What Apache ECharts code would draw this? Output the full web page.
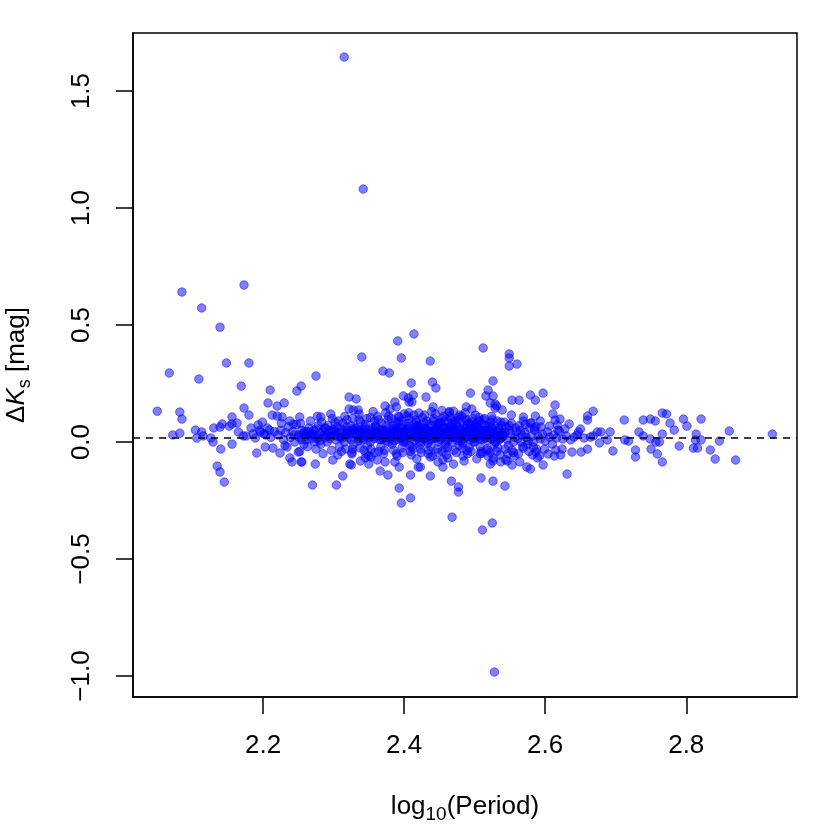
<!DOCTYPE html>
<html><head><meta charset="utf-8">
<script src="https://cdn.jsdelivr.net/npm/echarts@6/dist/echarts.min.js"></script>
<style>html,body{margin:0;padding:0;background:#fff}#c{width:830px;height:830px}</style>
</head><body><div id="c"></div>
<script>
// axis ranges and ticks
const xMin = 2.0156, xMax = 2.957;
const yMin = -1.0897, yMax = 1.748;
const xTicks = [2.2, 2.4, 2.6, 2.8];
const yTicks = [-1.0, -0.5, 0.0, 0.5, 1.0, 1.5];
const refLine = 0.02;

// scattered outliers
const outlierPoints = [
[2.315,1.645],[2.342,1.081],[2.085,0.641],[2.173,0.671],[2.113,0.573],[2.139,0.491],[2.067,0.295],[2.148,0.338],[2.180,0.338],[2.109,0.269],[2.169,0.239],
[2.414,0.462],[2.391,0.432],[2.340,0.363],[2.396,0.359],[2.437,0.346],[2.370,0.303],[2.379,0.295],[2.512,0.402],[2.549,0.376],[2.549,0.359],[2.549,0.325],[2.560,0.333],
[2.275,0.282],[2.248,0.218],[2.254,0.239],[2.322,0.192],[2.332,0.184],[2.410,0.252],[2.399,0.197],[2.387,0.171],[2.406,0.188],[2.440,0.256],[2.445,0.231],[2.526,0.261],[2.494,0.209],[2.519,0.222],[2.516,0.197],[2.526,0.197],[2.553,0.179],[2.563,0.179],[2.579,0.201],[2.586,0.179],[2.413,0.201],[2.411,0.171],[2.431,0.192],[2.529,0.162],[2.529,0.145],[2.441,0.150],[2.488,0.150],[2.496,0.141],[2.522,0.167],[2.531,0.154],[2.539,0.137],[2.552,0.115],[2.569,0.107],[2.579,0.081],[2.470,0.132],[2.464,0.130],[2.421,0.124],[2.322,0.141],[2.328,0.137],[2.335,0.137],[2.373,0.154],[2.380,0.141],[2.389,0.150],[2.407,0.171],[2.296,0.120],[2.282,0.107],[2.252,0.107],[2.243,0.077],[2.393,0.107],[2.400,0.120],
[2.270,-0.184],[2.304,-0.184],[2.313,-0.145],[2.325,-0.098],[2.393,-0.197],[2.396,-0.261],[2.409,-0.239],[2.409,-0.141],[2.377,-0.141],[2.373,-0.085],[2.350,-0.094],[2.274,-0.094],[2.255,-0.085],[2.323,-0.094],[2.326,-0.051],[2.353,-0.064],[2.393,-0.107],[2.366,-0.124],
[2.437,-0.145],[2.467,-0.167],[2.477,-0.192],[2.477,-0.214],[2.509,-0.154],[2.526,-0.167],[2.543,-0.188],[2.420,-0.107],[2.423,-0.107],[2.455,-0.107],[2.470,-0.094],[2.579,-0.115],[2.546,-0.081],[2.526,-0.081],[2.511,-0.047],[2.574,-0.107],[2.569,-0.026],[2.455,-0.077],[2.437,-0.064],
[2.468,-0.321],[2.511,-0.376],[2.525,-0.346],[2.528,-0.983],
[2.299,-0.077],[2.338,-0.081],[2.345,-0.068],[2.362,-0.077],[2.387,-0.085],[2.418,-0.072],[2.448,-0.085],[2.462,-0.068],[2.485,-0.081],[2.503,-0.072],[2.522,-0.094],[2.537,-0.085],[2.553,-0.098],[2.564,-0.085]
];

// short-period side
const leftPoints = [
[2.050,0.132],[2.072,0.030],[2.082,0.038],[2.082,0.128],[2.085,0.098],[2.104,0.051],[2.106,0.017],[2.113,0.043],[2.115,0.026],[2.126,0.017],[2.129,0.000],[2.130,0.060],[2.139,0.064],[2.142,0.077],[2.140,-0.030],[2.135,-0.103],[2.139,-0.128],[2.145,-0.171],
[2.152,0.068],[2.156,0.077],[2.156,0.107],[2.156,-0.009],[2.163,0.081],[2.165,0.043],[2.172,0.026],[2.173,0.145],[2.176,0.026],[2.180,0.115],[2.189,0.017],[2.191,-0.047],[2.193,0.073],[2.196,0.043],[2.199,0.085],[2.203,-0.021],[2.204,0.030],[2.207,0.167],[2.209,0.051],[2.210,0.222],[2.213,0.115],[2.214,-0.026],[2.220,0.154],[2.220,0.111],[2.224,-0.047],[2.227,0.107],[2.230,0.167],[2.234,-0.021],[2.238,-0.068],[2.241,-0.085],[2.250,-0.043],[2.254,-0.085],
[2.221,0.03],[2.225,0.05],[2.229,0.01],[2.232,0.04],[2.236,0.065],[2.239,0.02],[2.242,0.045],[2.245,0.0],[2.247,0.075],[2.244,0.03],[2.238,0.09],[2.231,-0.015],[2.226,0.08],[2.216,0.045],[2.211,0.02],[2.206,0.06],[2.201,0.035],[2.195,0.05],[2.186,0.035],[2.183,0.06]
];

// main band
const corePoints = [
[2.251,0.02],[2.255,0.05],[2.258,-0.01],[2.253,0.08],[2.257,0.035],[2.252,-0.04],
[2.261,0.01],[2.265,0.06],[2.268,0.03],[2.263,-0.02],[2.267,0.09],[2.262,0.045],
[2.271,0.03],[2.275,-0.03],[2.278,0.07],[2.273,0.0],[2.277,0.11],[2.272,0.05],[2.276,0.015],
[2.281,0.04],[2.285,-0.05],[2.288,0.02],[2.283,0.085],[2.287,0.06],[2.282,-0.01],[2.286,0.03],
[2.291,0.0],[2.295,0.05],[2.298,0.1],[2.293,0.025],[2.297,-0.035],[2.292,0.07],[2.296,0.04],
[2.301,0.03],[2.305,0.065],[2.308,-0.02],[2.303,0.01],[2.307,0.09],[2.302,0.045],[2.306,-0.055],[2.309,0.02],
[2.311,0.055],[2.315,0.0],[2.318,0.035],[2.313,0.08],[2.317,-0.03],[2.312,0.015],[2.316,0.11],[2.319,0.05],
[2.321,0.02],[2.325,0.07],[2.328,-0.01],[2.323,0.045],[2.327,0.1],[2.322,0.03],[2.326,-0.045],[2.329,0.06],
[2.331,0.04],[2.335,0.005],[2.338,0.085],[2.333,0.025],[2.337,-0.025],[2.332,0.06],[2.336,0.12],[2.339,0.015],[2.334,0.05],
[2.341,0.03],[2.345,0.075],[2.348,-0.015],[2.343,0.05],[2.347,0.1],[2.342,0.01],[2.346,-0.05],[2.349,0.035],[2.344,0.065],
[2.351,0.02],[2.355,0.06],[2.358,0.09],[2.353,-0.03],[2.357,0.04],[2.352,0.0],[2.356,0.13],[2.359,0.07],[2.354,0.025],[2.350,-0.06],
[2.361,0.045],[2.365,0.01],[2.368,0.08],[2.363,0.03],[2.367,-0.02],[2.362,0.11],[2.366,0.055],[2.369,0.02],[2.364,-0.04],[2.360,0.065],
[2.371,0.035],[2.375,0.07],[2.378,0.0],[2.373,0.05],[2.377,0.095],[2.372,-0.035],[2.376,0.02],[2.379,0.06],[2.374,0.125],[2.370,0.015],
[2.381,0.025],[2.385,0.055],[2.388,0.085],[2.383,-0.01],[2.387,0.04],[2.382,0.1],[2.386,0.005],[2.389,-0.05],[2.384,0.07],[2.380,0.03],[2.3865,0.045],
[2.391,0.05],[2.395,0.015],[2.398,0.075],[2.393,0.035],[2.397,-0.025],[2.392,0.11],[2.396,0.06],[2.399,0.0],[2.394,0.09],[2.390,-0.06],[2.3965,0.025],
[2.401,0.03],[2.405,0.065],[2.408,-0.015],[2.403,0.045],[2.407,0.1],[2.402,0.01],[2.406,0.08],[2.409,-0.04],[2.404,0.055],[2.400,0.02],[2.4065,0.125],[2.4035,0.035],
[2.411,0.04],[2.415,0.005],[2.418,0.07],[2.413,0.025],[2.417,0.095],[2.412,-0.03],[2.416,0.05],[2.419,0.015],[2.414,0.115],[2.410,-0.055],[2.4165,0.06],[2.4135,0.03],
[2.421,0.02],[2.425,0.06],[2.428,0.085],[2.423,-0.01],[2.427,0.045],[2.422,0.0],[2.426,0.105],[2.429,0.035],[2.424,-0.045],[2.420,0.07],[2.4265,0.015],[2.4235,0.05],
[2.431,0.035],[2.435,0.075],[2.438,-0.02],[2.433,0.05],[2.437,0.01],[2.432,0.09],[2.436,0.025],[2.439,0.13],[2.434,-0.05],[2.430,0.06],[2.4365,0.04],[2.4335,-0.005],
[2.441,0.045],[2.445,0.015],[2.448,0.08],[2.443,0.03],[2.447,-0.03],[2.442,0.1],[2.446,0.055],[2.449,0.0],[2.444,0.12],[2.440,-0.06],[2.4465,0.065],[2.4435,0.02],
[2.451,0.025],[2.455,0.065],[2.458,-0.01],[2.453,0.04],[2.457,0.09],[2.452,0.01],[2.456,0.11],[2.459,0.05],[2.454,-0.04],[2.450,0.075],[2.4565,0.03],[2.4535,0.135],
[2.461,0.03],[2.465,0.055],[2.468,0.0],[2.463,0.085],[2.467,0.02],[2.462,-0.025],[2.466,0.1],[2.469,0.045],[2.464,0.125],[2.460,-0.055],[2.4665,0.065],[2.4635,0.01],
[2.471,0.04],[2.475,0.07],[2.478,-0.015],[2.473,0.025],[2.477,0.095],[2.472,0.05],[2.476,0.005],[2.479,0.115],[2.474,-0.045],[2.470,0.06],[2.4765,0.035],[2.4735,0.08],
[2.481,0.02],[2.485,0.06],[2.488,0.09],[2.483,-0.005],[2.487,0.045],[2.482,0.11],[2.486,0.015],[2.489,-0.035],[2.484,0.07],[2.480,0.03],[2.4865,0.125],[2.4835,-0.06],
[2.491,0.035],[2.495,0.075],[2.498,0.0],[2.493,0.05],[2.497,0.1],[2.492,-0.025],[2.496,0.02],[2.499,0.065],[2.494,0.04],[2.490,-0.05],[2.4965,0.085],[2.4935,0.01],
[2.501,0.03],[2.505,0.055],[2.508,-0.02],[2.503,0.08],[2.507,0.015],[2.502,0.045],[2.506,0.105],[2.509,-0.04],[2.504,0.065],[2.500,0.0],[2.5065,0.09],[2.5035,0.025],
[2.511,0.04],[2.515,0.07],[2.518,0.005],[2.513,0.025],[2.517,-0.03],[2.512,0.095],[2.516,0.05],[2.519,-0.06],[2.514,0.015],[2.510,0.08],[2.5165,0.035],
[2.521,0.02],[2.525,0.06],[2.528,-0.01],[2.523,0.085],[2.527,0.035],[2.522,-0.045],[2.526,0.05],[2.529,0.0],[2.524,0.11],[2.520,0.03],[2.5265,-0.07],
[2.531,0.045],[2.535,0.01],[2.538,0.07],[2.533,-0.025],[2.537,0.03],[2.532,0.09],[2.536,-0.055],[2.539,0.02],[2.534,0.06],[2.530,0.0],
[2.541,0.025],[2.545,0.065],[2.548,-0.015],[2.543,0.04],[2.547,-0.05],[2.542,0.085],[2.546,0.01],[2.549,0.05],[2.544,-0.075],[2.540,0.03],
[2.551,0.035],[2.555,0.0],[2.558,0.06],[2.553,-0.035],[2.557,0.02],[2.552,0.08],[2.556,-0.06],[2.559,0.045],
[2.561,0.015],[2.565,0.05],[2.568,-0.02],[2.563,0.07],[2.567,0.03],[2.562,-0.05],[2.566,0.0],[2.569,0.09],
[2.571,0.04],[2.575,-0.01],[2.578,0.06],[2.573,0.02],[2.577,-0.04],[2.572,0.075],[2.576,0.005],
[2.581,0.025],[2.585,0.05],[2.588,-0.03],[2.583,0.0],[2.587,0.065],[2.582,-0.055]
];

// extra points in the densest part of the band
const denseCorePoints = [
[2.2505,0.03],[2.2545,0.01],[2.2585,0.045],[2.2605,0.025],[2.2645,0.04],[2.2685,0.015],[2.2705,0.035],[2.2745,0.055],[2.2785,0.02],[2.2805,0.005],[2.2845,0.045],[2.2885,0.06],[2.2905,0.03],[2.2945,0.015],[2.2985,0.045],[2.3005,0.055],[2.3045,0.025],[2.3085,0.04],[2.3105,0.02],[2.3145,0.045],[2.3185,0.065],[2.3205,0.035],[2.3245,0.01],[2.3285,0.05],
[2.3325,0.03],[2.3375,0.045],[2.3355,0.015],[2.3385,0.04],
[2.3415,0.02],[2.3435,0.04],[2.3475,0.025],[2.3455,0.055],
[2.3515,0.035],[2.3535,0.05],[2.3575,0.015],[2.3595,0.03],[2.3555,0.045],
[2.3605,0.025],[2.3625,0.04],[2.3655,0.035],[2.3685,0.05],[2.3675,0.01],
[2.3705,0.045],[2.3725,0.025],[2.3755,0.04],[2.3785,0.03],[2.3745,0.005],
[2.3805,0.015],[2.3835,0.04],[2.3845,0.02],[2.3875,0.06],[2.3895,0.035],
[2.3905,0.03],[2.3925,0.045],[2.3945,0.02],[2.3985,0.04],[2.3975,0.055],[2.3915,0.01],
[2.4005,0.045],[2.4025,0.025],[2.4045,0.04],[2.4085,0.03],[2.4075,0.06],[2.4015,0.0],
[2.4105,0.02],[2.4125,0.045],[2.4155,0.035],[2.4175,0.025],[2.4195,0.05],[2.4145,0.075],
[2.4205,0.04],[2.4225,0.025],[2.4245,0.03],[2.4275,0.055],[2.4295,0.015],[2.4215,0.065],
[2.4305,0.02],[2.4325,0.04],[2.4345,0.025],[2.4385,0.045],[2.4395,0.07],[2.4315,0.005],
[2.4405,0.035],[2.4425,0.05],[2.4455,0.025],[2.4475,0.04],[2.4495,0.08],[2.4415,0.015],
[2.4505,0.045],[2.4525,0.02],[2.4555,0.035],[2.4575,0.06],[2.4595,0.01],[2.4515,0.085],
[2.4605,0.04],[2.4625,0.05],[2.4655,0.03],[2.4685,0.075],[2.4695,0.02],[2.4615,0.06],
[2.4705,0.02],[2.4725,0.035],[2.4745,0.045],[2.4775,0.015],[2.4795,0.055],[2.4715,0.09],
[2.4805,0.05],[2.4825,0.035],[2.4855,0.04],[2.4875,0.02],[2.4895,0.075],[2.4815,0.005],
[2.4905,0.025],[2.4925,0.045],[2.4945,0.06],[2.4975,0.03],[2.4995,0.015],[2.4915,0.08],
[2.5005,0.04],[2.5025,0.02],[2.5055,0.035],[2.5075,0.05],[2.5095,0.01],[2.5015,0.07],
[2.5105,0.03],[2.5125,0.05],[2.5155,0.02],[2.5175,0.04],[2.5195,0.065],
[2.5205,0.045],[2.5235,0.015],[2.5255,0.04],[2.5285,0.025],[2.5225,0.07],
[2.5305,0.03],[2.5335,0.05],[2.5365,0.015],[2.5385,0.04]
];

// points along the upper and lower edges of the band
const bandEdgePoints = [
[2.302,0.085],[2.311,-0.04],[2.319,0.095],[2.327,-0.03],[2.336,0.095],[2.343,-0.035],[2.352,0.105],[2.358,-0.045],[2.364,0.095],[2.371,-0.05],
[2.378,0.11],[2.385,-0.035],[2.392,0.085],[2.398,-0.045],[2.404,0.11],[2.411,-0.02],[2.417,0.085],[2.423,-0.03],[2.429,0.115],[2.435,-0.035],
[2.441,0.09],[2.448,-0.045],[2.454,0.1],[2.459,-0.025],[2.465,0.11],[2.471,-0.035],[2.477,0.105],[2.483,-0.025],[2.489,0.095],[2.495,-0.04],
[2.501,0.115],[2.508,-0.05],[2.514,0.1],[2.519,-0.035],[2.525,0.095],[2.531,-0.04],[2.537,0.085],[2.543,-0.03],[2.549,0.07],[2.555,-0.045]
];

// long-period side
const rightPoints = [
[2.597,0.209],[2.614,0.158],[2.668,0.132],[2.660,0.111],[2.660,0.094],[2.712,0.094],[2.739,0.094],[2.749,0.098],[2.756,0.090],[2.766,0.124],[2.772,0.120],[2.777,0.081],[2.783,0.051],[2.796,0.098],[2.801,0.068],[2.821,0.098],[2.861,0.047],[2.922,0.034],[2.814,0.034],[2.813,0.009],[2.821,0.009],[2.810,-0.026],[2.816,-0.026],[2.834,-0.034],[2.847,0.004],[2.841,-0.073],[2.870,-0.077],[2.790,-0.017],[2.766,-0.085],[2.759,-0.051],[2.750,-0.030],[2.757,0.000],[2.762,0.000],[2.766,0.034],[2.749,0.013],[2.739,0.026],[2.733,0.043],[2.728,-0.034],[2.728,-0.064],[2.718,0.004],[2.713,0.009],[2.696,-0.038],[2.692,0.043],[2.688,0.009],[2.679,0.043],[2.677,-0.004],[2.674,0.043],[2.668,0.026],[2.660,-0.030],[2.651,-0.043],[2.650,0.056],[2.647,0.043],[2.638,-0.043],[2.631,-0.137],[2.634,0.077],[2.628,0.056],[2.624,-0.030],[2.613,-0.060],[2.597,-0.098],[2.617,0.073],[2.614,0.094],[2.621,0.098],[2.611,0.120],[2.593,0.090],[2.586,0.111],[2.580,0.081],
[2.590,0.026],[2.593,0.013],[2.596,0.034],[2.600,0.004],[2.603,0.043],[2.606,0.021],[2.610,-0.009],[2.612,0.030],[2.616,0.017],[2.620,0.047],[2.625,0.013],[2.630,0.026],[2.636,0.009],[2.641,0.021],[2.645,0.030],[2.655,0.017],[2.664,0.021],[2.583,-0.021],[2.587,-0.043],[2.592,-0.060],[2.599,-0.030],[2.604,-0.051],[2.615,-0.034],[2.622,-0.055],[2.585,0.060],[2.594,0.064],[2.606,0.068],[2.618,0.051],[2.589,-0.068]
];

const allPoints = [].concat(leftPoints, corePoints, denseCorePoints, bandEdgePoints, rightPoints, outlierPoints);

const FONT = 'Liberation Sans';
const chart = echarts.init(document.getElementById('c'), null, {renderer: 'canvas'});
chart.setOption({
  animation: false,
  backgroundColor: '#ffffff',
  grid: {left: 133, right: 33, top: 33, bottom: 133, containLabel: false, outerBoundsMode: 'none',
         show: true, borderColor: '#000', borderWidth: 1.5, backgroundColor: 'transparent'},
  xAxis: {
    type: 'value', min: xMin, max: xMax,
    axisLine: {show: true, onZero: false, lineStyle: {color: '#000', width: 1.5}},
    splitLine: {show: false},
    axisTick: {show: true, inside: false, length: 17, customValues: xTicks, lineStyle: {color: '#000', width: 1.5}},
    axisLabel: {customValues: xTicks, formatter: v => v.toFixed(1), fontSize: 26, fontFamily: FONT, color: '#000', margin: 36},
    name: '{n|log}{s|10}{n|(Period)}',
    nameLocation: 'middle', nameGap: 93,
    nameTextStyle: {rich: {
      n: {fontSize: 26, fontFamily: FONT, color: '#000', lineHeight: 34},
      s: {fontSize: 19, fontFamily: FONT, color: '#000', lineHeight: 19, verticalAlign: 'bottom'}
    }}
  },
  yAxis: {
    type: 'value', min: yMin, max: yMax,
    axisLine: {show: true, onZero: false, lineStyle: {color: '#000', width: 1.5}},
    splitLine: {show: false},
    axisTick: {show: true, inside: false, length: 17, customValues: yTicks, lineStyle: {color: '#000', width: 1.5}},
    axisLabel: {customValues: yTicks, formatter: v => v.toFixed(1).replace('-', '\u2212'), fontSize: 26, fontFamily: FONT, color: '#000', margin: 38, rotate: 90},
    name: '{n|\u0394}{k|K}{s|s}{n| [mag]}',
    nameLocation: 'middle', nameGap: 99, nameRotate: 90,
    nameTextStyle: {rich: {
      n: {fontSize: 26, fontFamily: FONT, color: '#000', lineHeight: 34},
      k: {fontSize: 26, fontFamily: FONT, fontStyle: 'italic', color: '#000', lineHeight: 34},
      s: {fontSize: 18, fontFamily: FONT, color: '#000', lineHeight: 18, verticalAlign: 'bottom'}
    }}
  },
  series: [{
    type: 'scatter',
    data: allPoints,
    symbol: 'circle',
    symbolSize: 8.5,
    itemStyle: {color: 'rgba(0,0,255,0.5)', borderColor: 'rgba(0,0,255,0.5)', borderWidth: 1, opacity: 1},
    emphasis: {disabled: true},
    markLine: {
      silent: true, symbol: ['none', 'none'],
      label: {show: false},
      lineStyle: {color: '#000', width: 1.5, type: [7, 6]},
      data: [{yAxis: refLine}]
    }
  }]
});
</script>
</body></html>
